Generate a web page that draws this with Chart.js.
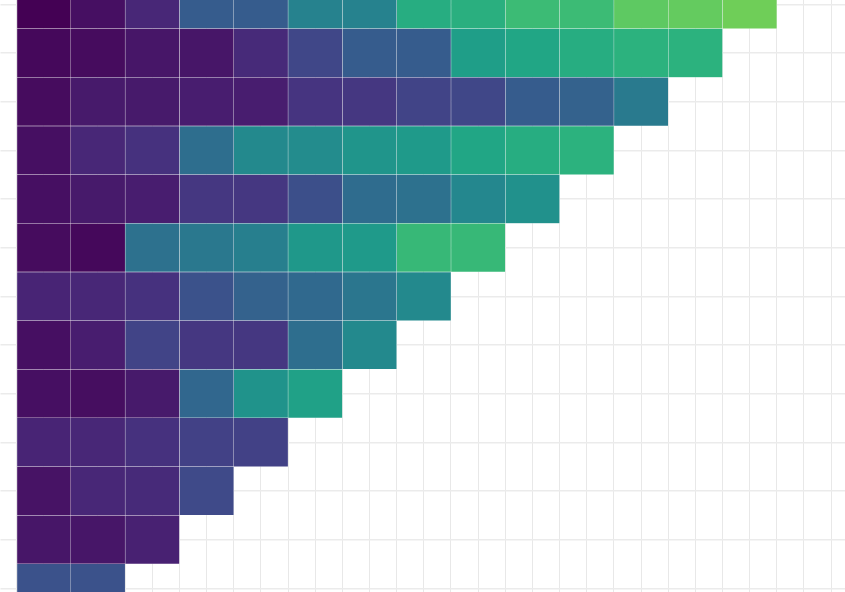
<!DOCTYPE html>
<html>
<head>
<meta charset="utf-8">
<script src="https://cdn.jsdelivr.net/npm/chart.js@4.4.1/dist/chart.umd.min.js"></script>
<style>
  html, body { margin: 0; padding: 0; background: #fff; }
  #wrap { position: relative; width: 845px; height: 592px; overflow: hidden; }
  #chart { position: absolute; left: 0; top: -30px; }
</style>
</head>
<body>
<div id="wrap"><canvas id="chart" width="880" height="670"></canvas></div>
<script>
  // cohort rows (top to bottom) and period columns
  const cohorts = ['C01','C02','C03','C04','C05','C06','C07','C08','C09','C10','C11','C12','C13'];
  const periods = ['P0','P1','P2','P3','P4','P5','P6','P7','P8','P9','P10','P11','P12','P13'];

  // values on a 0..1 scale
  const c01 = [0.00,0.04,0.11,0.29,0.29,0.44,0.44,0.62,0.63,0.68,0.68,0.75,0.76,0.78];
  const c02 = [0.02,0.03,0.06,0.06,0.12,0.21,0.29,0.29,0.56,0.59,0.62,0.64,0.64];
  const c03 = [0.03,0.07,0.07,0.08,0.08,0.15,0.16,0.20,0.21,0.29,0.31,0.41];
  const c04 = [0.04,0.11,0.14,0.36,0.47,0.48,0.52,0.54,0.59,0.62,0.64];
  const c05 = [0.04,0.07,0.08,0.16,0.16,0.24,0.35,0.37,0.46,0.50];
  const c06 = [0.03,0.02,0.37,0.40,0.43,0.53,0.54,0.67,0.67];
  const c07 = [0.10,0.11,0.14,0.25,0.31,0.34,0.39,0.47];
  const c08 = [0.04,0.08,0.20,0.16,0.16,0.36,0.47];
  const c09 = [0.04,0.035,0.07,0.33,0.51,0.57];
  const c10 = [0.10,0.11,0.14,0.19,0.19];
  const c11 = [0.05,0.11,0.12,0.22];
  const c12 = [0.06,0.06,0.09];
  const c13 = [0.25,0.25];
  const rows = [c01,c02,c03,c04,c05,c06,c07,c08,c09,c10,c11,c12,c13];

  const viridis = ['#440154','#471365','#482475','#463480','#414487','#3b528b','#355f8d',
    '#2f6c8e','#2a788e','#25848e','#21918c','#1e9c89','#22a884','#2fb47c','#44bf70',
    '#5ec962','#7ad151','#9bd93c','#bddf26','#dfe318','#fde725'];

  function hex(h) { return [1,3,5].map(i => parseInt(h.substr(i,2),16)); }
  function colorFor(v) {
    const t = Math.max(0, Math.min(1, v)) * (viridis.length - 1);
    const i = Math.min(Math.floor(t), viridis.length - 2);
    const f = t - i;
    const a = hex(viridis[i]), b = hex(viridis[i+1]);
    const c = a.map((x,k) => Math.round(x + (b[k]-x)*f));
    return `rgb(${c[0]},${c[1]},${c[2]})`;
  }

  const datasets = periods.map((p, j) => ({
    label: p,
    data: rows.map(r => j < r.length ? [j, j + 1] : null),
    backgroundColor: rows.map(r => j < r.length ? colorFor(r[j]) : 'transparent'),
    borderColor: 'rgba(255,255,255,0.4)',
    borderWidth: 0.5,
    borderSkipped: false,
    grouped: false,
    barPercentage: 1,
    categoryPercentage: 1
  }));

  new Chart(document.getElementById('chart'), {
    type: 'bar',
    data: { labels: cohorts, datasets },
    options: {
      indexAxis: 'y',
      responsive: false,
      animation: false,
      layout: { padding: { left: 0.5, top: 10, right: 21.7, bottom: 27.4 } },
      plugins: { legend: { display: false }, tooltip: { enabled: false } },
      scales: {
        x: {
          type: 'linear', min: 0, max: 15.5,
          ticks: { display: false, stepSize: 0.5 },
          grid: { color: '#e8e8e8', drawTicks: false },
          border: { display: false }
        },
        y: {
          ticks: { display: false },
          grid: { color: '#ebebeb', offset: false, tickLength: 16, lineWidth: 1.5 },
          border: { display: false }
        }
      }
    }
  });
</script>
</body>
</html>
